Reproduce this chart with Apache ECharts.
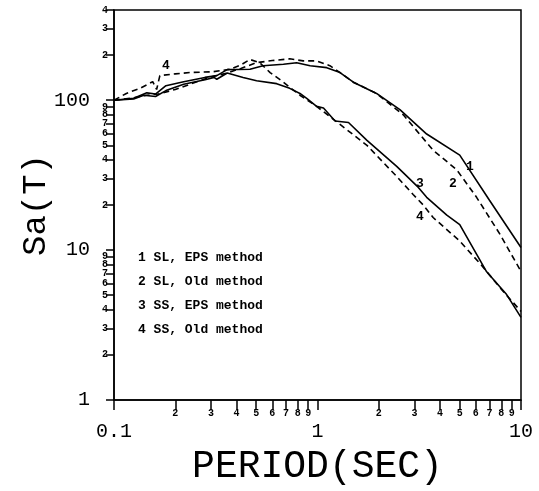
<!DOCTYPE html>
<html>
<head>
<meta charset="utf-8">
<script src="https://cdn.jsdelivr.net/npm/echarts@6/dist/echarts.min.js"></script>
<style>
  html, body { margin: 0; padding: 0; background: #fff; }
  #chart { width: 539px; height: 491px; }
</style>
</head>
<body>
<div id="chart"></div>
<script>
// curve 1: SL, EPS method (solid)
const periods1 = [0.1, 0.125, 0.145, 0.16, 0.18, 0.22, 0.28, 0.32, 0.36, 0.466, 0.54, 0.68, 0.79, 0.92, 1.11, 1.29, 1.5, 1.95, 2.54, 3.44, 5.0, 7.0, 10]
const sa1 = [100, 103, 112, 110, 125, 133, 142, 146, 160, 161, 170, 174, 178, 170, 165, 153, 132, 111, 86.5, 59.5, 43, 21.5, 10.4]

// curve 2: SL, Old method (dashed)
const periods2 = [0.1, 0.125, 0.145, 0.165, 0.2, 0.265, 0.3, 0.36, 0.42, 0.5, 0.6, 0.73, 0.85, 0.99, 1.15, 1.29, 1.5, 1.95, 2.64, 3.7, 4.83, 6.05, 7.9, 10]
const sa2 = [100, 104, 108, 110, 118, 135, 143, 152, 163, 178, 184, 189, 183, 183, 170, 153, 132, 111, 80, 46.4, 34.4, 22.5, 12.7, 7.2]

// curve 3: SS, EPS method (solid)
const periods3 = [0.1, 0.125, 0.14, 0.16, 0.18, 0.22, 0.28, 0.31, 0.32, 0.36, 0.431, 0.502, 0.63, 0.73, 0.82, 0.885, 0.99, 1.07, 1.22, 1.42, 1.75, 2.45, 3.13, 3.44, 4.32, 5.0, 6.78, 8.5, 10]
const sa3 = [100, 102, 108, 106, 116, 128, 137, 142, 138, 152, 142, 135, 129, 120, 111, 103, 91, 88.7, 72.7, 71, 54, 36.2, 26.2, 22.5, 17.1, 14.8, 7.17, 5.05, 3.56]

// curve 4: SS, Old method (dashed)
const periods4 = [0.1, 0.115, 0.134, 0.155, 0.162, 0.168, 0.2, 0.236, 0.307, 0.372, 0.42, 0.466, 0.52, 0.585, 0.68, 0.82, 0.99, 1.29, 1.75, 2.45, 2.95, 3.31, 3.7, 5.0, 6.41, 7.9, 10]
const sa4 = [100, 111, 120, 133, 118, 146, 150, 153, 155, 161, 172, 187, 178, 153, 132, 108, 91, 69, 50, 31, 23.5, 20, 16.5, 11.5, 7.9, 5.6, 3.9]

const seriesNames = ['1 SL, EPS method', '2 SL, Old method', '3 SS, EPS method', '4 SS, Old method']
const seriesDashed = [false, true, false, true]

// curve number tags: [period, Sa]
const tagSeries = [0, 1, 2, 3, 3]
const tagText = ['1', '2', '3', '4', '4']
const tagPeriod = [5.61, 4.63, 3.19, 3.19, 0.18]
const tagSa = [36.2, 27.7, 27.7, 16.6, 169]

// minor tick digits per decade
const minorDigits = [2, 3, 4, 5, 6, 7, 8, 9]
const xDecades = [0.1, 1]
const yDecades = [1, 10, 100]
const xMin = 0.1, xMax = 10
const yMin = 1, yMax = 400

const xMinorTicks = []
xDecades.forEach(d => minorDigits.forEach(k => xMinorTicks.push(Math.log10(k * d))))
const yMinorTicks = []
yDecades.forEach(d => minorDigits.forEach(k => { if (k * d <= yMax) yMinorTicks.push(Math.log10(k * d)) }))
// decade marks get a tick too
const xAllTicks = xMinorTicks.concat([-1, 0, 1])
const yAllTicks = yMinorTicks.concat([0, 1, 2])

const digitOf = v => String(Math.round(Math.pow(10, v - Math.floor(v + 1e-9))))

const bigFont = { fontFamily: 'Liberation Mono', fontSize: 20, color: '#000' }
const smallFont = { fontFamily: 'Liberation Mono', fontWeight: 'bold', fontSize: 10, color: '#000' }

const allPeriods = [periods1, periods2, periods3, periods4]
const allSa = [sa1, sa2, sa3, sa4]

const series = seriesNames.map((name, i) => {
  const tags = []
  tagSeries.forEach((s, j) => {
    if (s === i) tags.push({ coord: [tagPeriod[j], tagSa[j]], value: tagText[j] })
  })
  return {
    name: name,
    type: 'line',
    xAxisIndex: 0,
    yAxisIndex: 0,
    symbol: 'none',
    data: allPeriods[i].map((t, k) => [t, allSa[i][k]]),
    lineStyle: { color: '#000', width: 1.6, type: seriesDashed[i] ? [6, 4] : 'solid' },
    itemStyle: { color: '#000' },
    markPoint: {
      symbol: 'circle',
      symbolSize: 0,
      silent: true,
      label: { show: true, position: 'inside', formatter: p => p.value, fontFamily: 'Liberation Mono', fontWeight: 'bold', fontSize: 13, color: '#000' },
      data: tags
    }
  }
})

const chart = echarts.init(document.getElementById('chart'))
chart.setOption({
  animation: false,
  backgroundColor: '#fff',
  grid: { left: 114, right: 18, top: 10, bottom: 81, show: true, borderColor: '#000', borderWidth: 1.5 },
  legend: {
    orient: 'vertical',
    left: 127,
    top: 246,
    itemGap: 11,
    itemWidth: 0,
    itemHeight: 0,
    selectedMode: false,
    data: seriesNames,
    textStyle: { fontFamily: 'Liberation Mono', fontWeight: 'bold', fontSize: 13, color: '#000' }
  },
  xAxis: [
    {
      type: 'log', logBase: 10, min: xMin, max: xMax, position: 'bottom',
      name: 'PERIOD(SEC)', nameLocation: 'middle', nameGap: 48, nameMoveOverlap: false,
      nameTextStyle: { fontFamily: 'Liberation Mono', fontSize: 38, color: '#000' },
      axisLine: { onZero: false, lineStyle: { color: '#000', width: 1.5 } },
      axisTick: { show: false },
      axisLabel: Object.assign({ margin: 22, formatter: v => String(parseFloat(v.toPrecision(6))) }, bigFont),
      splitLine: { show: false }
    },
    {
      type: 'value', min: -1, max: 1, position: 'bottom',
      axisLine: { show: false, onZero: false },
      axisTick: { show: true, length: 10, customValues: xAllTicks, lineStyle: { color: '#000', width: 1.5 } },
      axisLabel: Object.assign({ margin: 8, customValues: xMinorTicks, formatter: digitOf }, smallFont),
      splitLine: { show: false }
    }
  ],
  yAxis: [
    {
      type: 'log', logBase: 10, min: yMin, max: yMax, position: 'left',
      name: 'Sa(T)', nameLocation: 'middle', nameGap: 61, nameMoveOverlap: false,
      nameTextStyle: { fontFamily: 'Liberation Mono', fontSize: 34, color: '#000' },
      axisLine: { onZero: false, lineStyle: { color: '#000', width: 1.5 } },
      axisTick: { show: false },
      axisLabel: Object.assign({ margin: 24, showMaxLabel: false }, bigFont),
      splitLine: { show: false }
    },
    {
      type: 'value', min: 0, max: Math.log10(yMax), position: 'left',
      axisLine: { show: false, onZero: false },
      axisTick: { show: true, length: 8, customValues: yAllTicks, lineStyle: { color: '#000', width: 1.5 } },
      axisLabel: Object.assign({ margin: 6, customValues: yMinorTicks, formatter: digitOf }, smallFont),
      splitLine: { show: false }
    }
  ],
  series: series
})

window.addEventListener('resize', () => chart.resize())
</script>
</body>
</html>
